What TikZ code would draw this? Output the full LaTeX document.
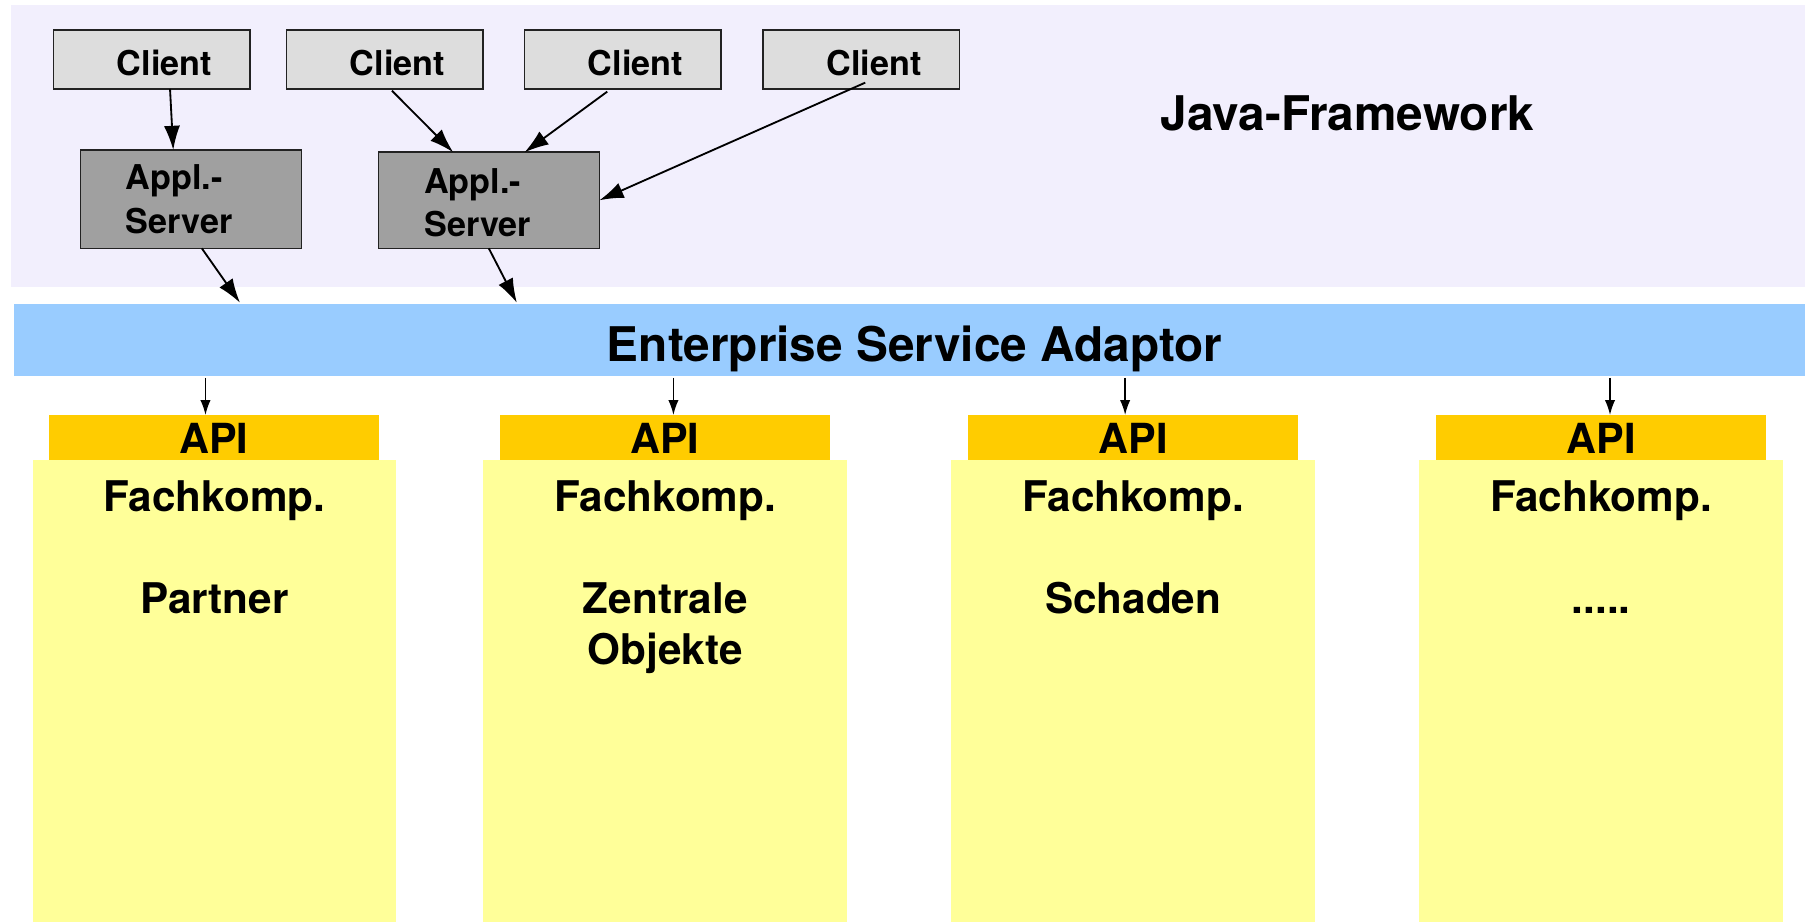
\documentclass[tikz,border=0pt]{standalone}
\usepackage{fontspec}
\setmainfont{TeX Gyre Heros}
\usetikzlibrary{arrows.meta,calc}
\definecolor{javabg}{HTML}{F2EFFD}
\definecolor{esabg}{HTML}{99CCFF}
\definecolor{apibg}{HTML}{FFCC00}
\definecolor{fkbg}{HTML}{FFFF99}
\definecolor{clientbg}{HTML}{DDDDDD}
\definecolor{serverbg}{HTML}{A0A0A0}
\definecolor{edge}{HTML}{222222}
\begin{document}
\begin{tikzpicture}[x=1pt,y=-1pt,
  box/.style={inner sep=0pt, outer sep=0pt, anchor=north west},
  clientbox/.style={box, draw=edge, fill=clientbg, line width=1.4pt,
    minimum width=170.5pt, minimum height=51.3pt,
    font=\fontsize{29.7pt}{36pt}\selectfont\bfseries, text height=27pt, text depth=0pt},
  serverbox/.style={box, draw=edge, fill=serverbg, line width=1.4pt,
    minimum width=192pt},
  srvlbl/.style={inner sep=0pt, anchor=base west, align=left,
    font=\fontsize{29.7pt}{37.6pt}\selectfont\bfseries},
  apibox/.style={box, fill=apibg, minimum width=286.5pt, minimum height=39.1pt},
  fkbox/.style={box, fill=fkbg, minimum width=315.8pt, minimum height=401.4pt},
  apilbl/.style={inner sep=0pt, anchor=base, font=\fontsize{36pt}{44pt}\selectfont\bfseries},
  fklbl/.style={inner sep=0pt, anchor=base, align=center,
    font=\fontsize{36.7pt}{44.2pt}\selectfont\bfseries},
  biglbl/.style={inner sep=0pt, anchor=base, font=\fontsize{41.5pt}{50pt}\selectfont\bfseries},
  arr/.style={line width=1.6pt, -{Latex[length=21pt,width=14pt]}},
  arrs/.style={line width=1.3pt, -{Latex[length=13pt,width=9pt]}}
]
\useasboundingbox (0,0) rectangle (1568,801);

% layers
\node[box, fill=javabg, minimum width=1558.3pt, minimum height=245.3pt] (java) at (9.7,4.3) {};
\node[box, fill=esabg, minimum width=1555.5pt, minimum height=62.7pt] (esa) at (12.5,264) {};
\node[biglbl] (javalbl) at (1170.5,113.5) {Java-Framework};
\node[biglbl] (esalbl) at (794.5,313.6) {Enterprise Service Adaptor};

% clients
\node[clientbox] (c1) at (46.5,26) {\hspace*{22pt}Client};
\node[clientbox] (c2) at (249,26) {\hspace*{22pt}Client};
\node[clientbox] (c3) at (455.7,26) {\hspace*{22pt}Client};
\node[clientbox] (c4) at (663,26) {\hspace*{22pt}Client};

% application servers
\node[serverbox, minimum height=85.4pt] (s1) at (69.8,130.3) {};
\node[serverbox, minimum height=83.4pt] (s2) at (328.7,132.3) {};
\node[srvlbl] (s1lbl) at ($(s1.north west)+(39.3,72.3)$) {Appl.-\\Server};
\node[srvlbl] (s2lbl) at ($(s2.north west)+(39.6,73.2)$) {Appl.-\\Server};

% client -> server arrows
\draw[arr] ($(c1.south west)+(101.2,0)$) -- ($(s1.north west)+(80.7,0)$);
\draw[arr] ($(c2.south west)+(91.5,1.5)$) -- ($(s2.north west)+(65,0)$);
\draw[arr] ($(c3.south west)+(71.8,2.3)$) -- ($(s2.north west)+(127,0)$);
\draw[arr] ($(c4.south west)+(88.6,-5.5)$) -- (s2.east);

% server -> ESA arrows
\draw[arr] ($(s1.south west)+(105.5,0)$) -- ($(esa.north west)+(196,-1)$);
\draw[arr] ($(s2.south west)+(95.9,0)$) -- ($(esa.north west)+(436.5,-1)$);

% components
\node[apibox] (api1) at (42.4,360.5) {};
\node[apibox] (api2) at (434.4,360.5) {};
\node[apibox] (api3) at (841,360.5) {};
\node[apibox] (api4) at (1247.6,360.5) {};
\node[fkbox] (fk1) at (28.4,399.6) {};
\node[fkbox] (fk2) at (420,399.6) {};
\node[fkbox] (fk3) at (826.5,399.6) {};
\node[fkbox] (fk4) at (1233,399.6) {};

\node[apilbl] (al1) at (api1.center |- 0,393.6) {API};
\node[apilbl] (al2) at (api2.center |- 0,393.6) {API};
\node[apilbl] (al3) at (api3.center |- 0,393.6) {API};
\node[apilbl] (al4) at (api4.center |- 0,393.6) {API};

% multi-line nodes: base anchor = baseline of the last line
\node[fklbl] (fl1) at (fk1.center |- 0,532.9) {Fachkomp.\\[44.2pt]Partner};
\node[fklbl] (fl2) at (fk2.center |- 0,577.1) {Fachkomp.\\[44.2pt]Zentrale\\Objekte};
\node[fklbl] (fl3) at (fk3.center |- 0,532.9) {Fachkomp.\\[44.2pt]Schaden};
\node[fklbl] (fl4) at (fk4.center |- 0,532.9) {Fachkomp.\\[44.2pt].....};

% ESA -> API arrows
\coordinate (t1) at ($(api1.north west)+(136.1,0)$);
\coordinate (t2) at ($(api2.north west)+(150.6,0)$);
\coordinate (t3) at ($(api3.north west)+(136.4,0)$);
\coordinate (t4) at ($(api4.north west)+(151,0)$);
\draw[arrs] ($(t1 |- esa.south)+(0,1.5)$) -- (t1);
\draw[arrs] ($(t2 |- esa.south)+(0,1.5)$) -- (t2);
\draw[arrs] ($(t3 |- esa.south)+(0,1.5)$) -- (t3);
\draw[arrs] ($(t4 |- esa.south)+(0,1.5)$) -- (t4);
\end{tikzpicture}
\end{document}
